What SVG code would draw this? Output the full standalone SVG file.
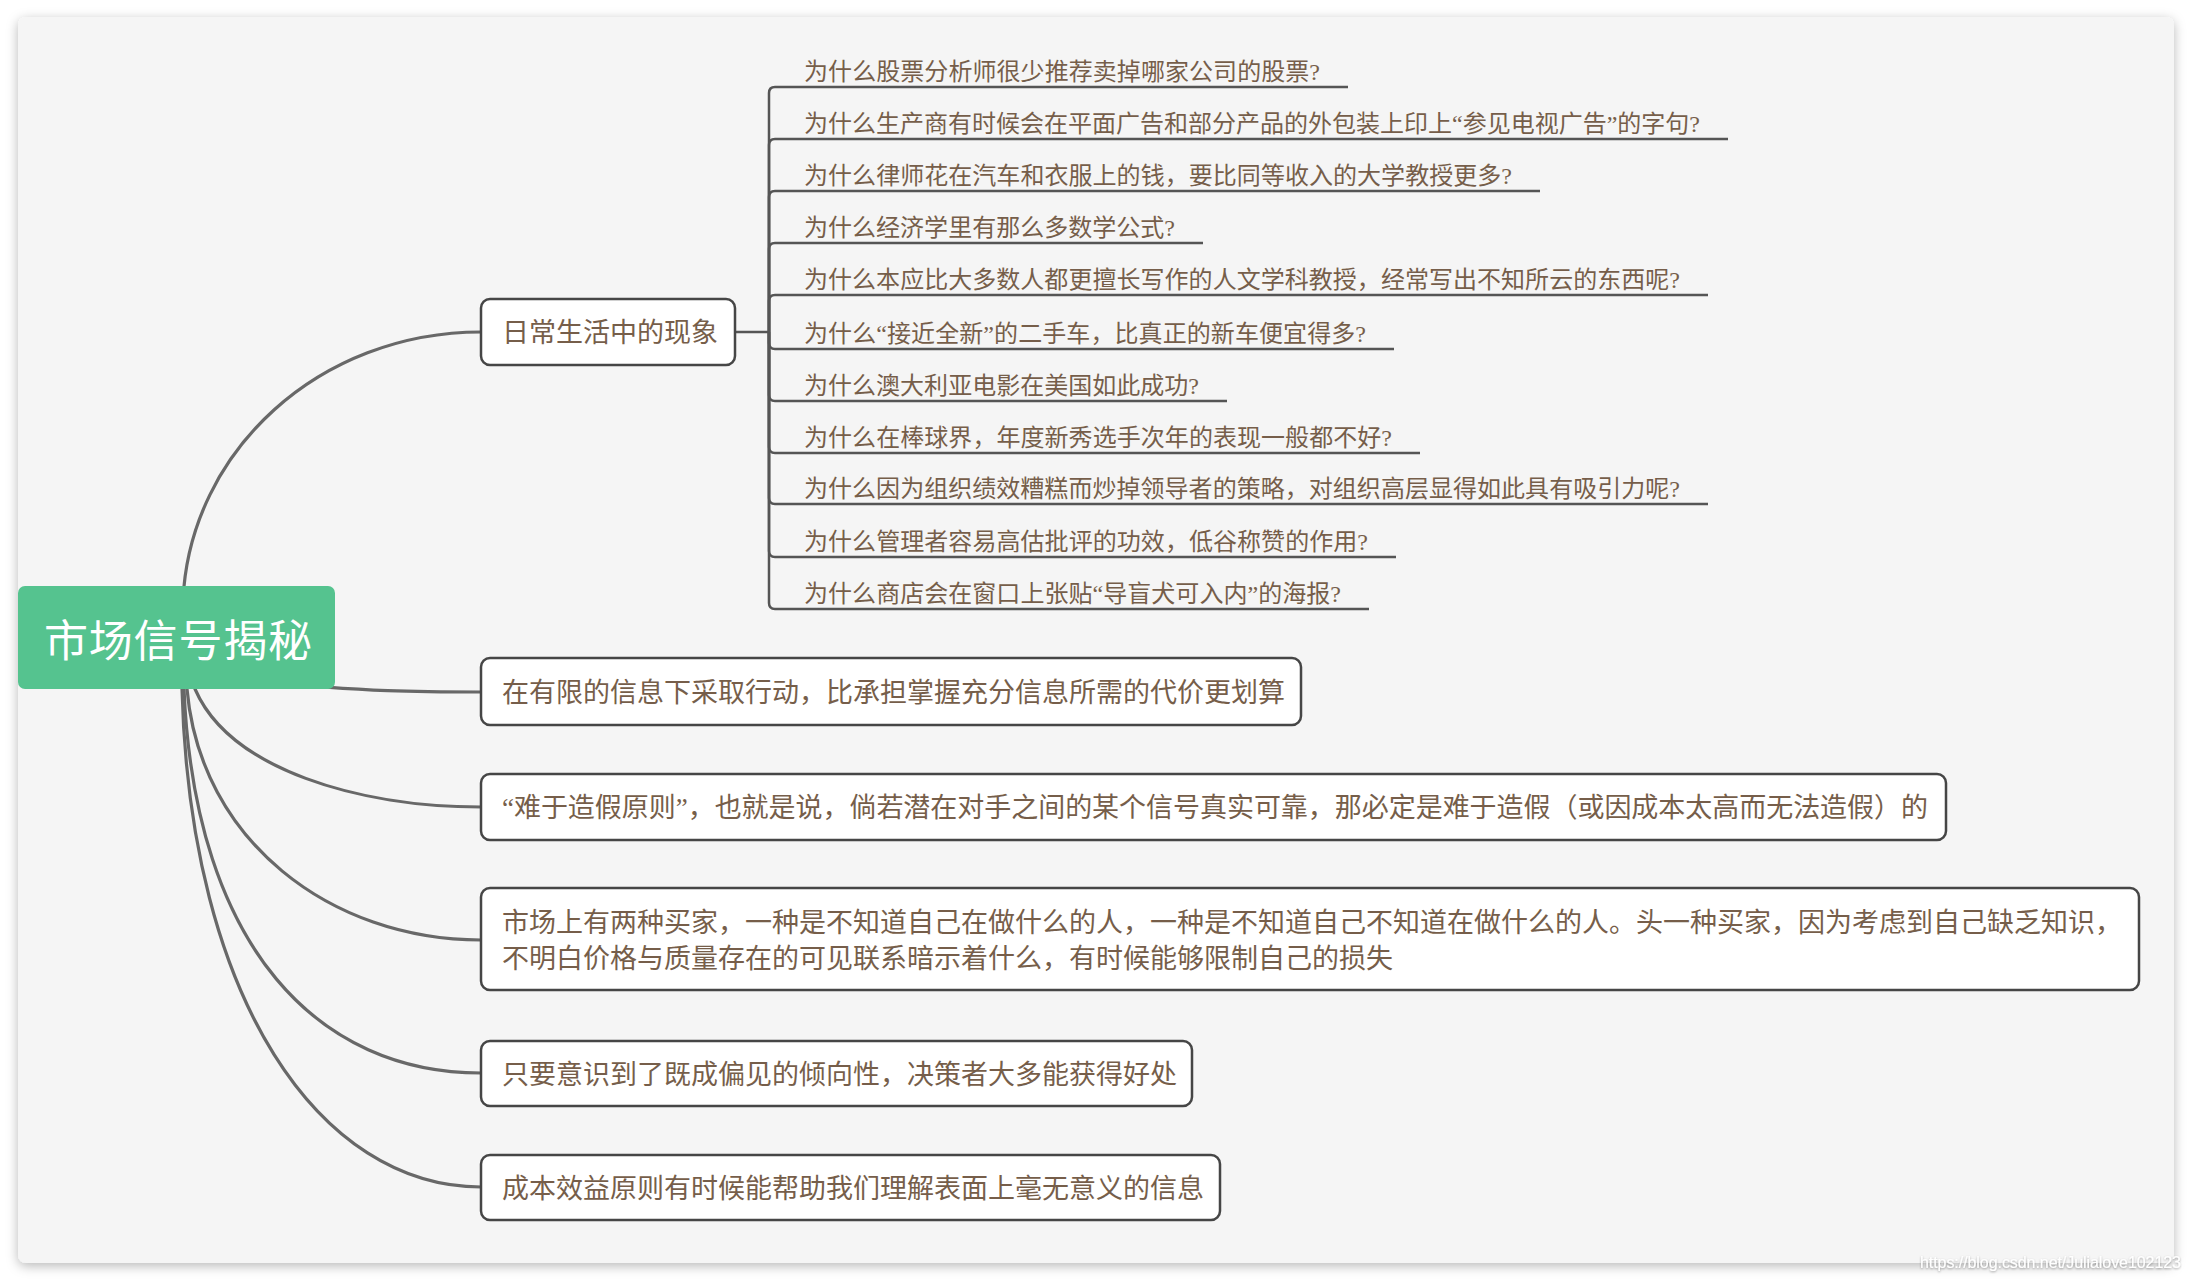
<svg xmlns="http://www.w3.org/2000/svg" width="2192" height="1282" viewBox="0 0 2192 1282">
<defs>
<filter id="cardShadow" x="-5%" y="-5%" width="110%" height="110%">
<feDropShadow dx="0" dy="3" stdDeviation="6" flood-color="#000" flood-opacity="0.28"/>
</filter>
<filter id="wmShadow" x="-5%" y="-30%" width="110%" height="160%">
<feDropShadow dx="0" dy="1" stdDeviation="1.2" flood-color="#000" flood-opacity="0.35"/>
</filter>
</defs>
<style>
.card{fill:#f5f5f5}
.box{fill:#ffffff;stroke:#464646;stroke-width:2.5}
.root{fill:#55c38f}
.t{font-family:"Noto Sans CJK SC","Liberation Serif",serif;fill:#765e4a}
.lbl{font-size:27px}
.q{font-size:24px}
.qm{font-family:"Liberation Serif",serif}
.rt{font-family:"Noto Sans CJK SC",sans-serif;font-size:44px;fill:#ffffff}
.curve{fill:none;stroke:#686868;stroke-width:3.2;stroke-linecap:round}
.br{fill:none;stroke:#555555;stroke-width:2.5}
.wm{font-family:"Liberation Sans",Arial,sans-serif;font-size:16px;fill:#ffffff}
</style>
<rect x="0" y="0" width="2192" height="1282" fill="#ffffff"/>
<rect class="card" x="18" y="17" width="2156" height="1246" rx="8" filter="url(#cardShadow)"/>

<g id="connectors">
<path class="curve" d="M183,600 C190,450 320,332 481,332"/>
<path class="curve" d="M250,681 C370,692 420,692 481,692"/>
<path class="curve" d="M195,689 C230,770 360,807 481,807"/>
<path class="curve" d="M187,689 C200,840 330,940 481,940"/>
<path class="curve" d="M184,689 C195,950 320,1073 481,1073"/>
<path class="curve" d="M182,689 C190,1000 320,1187 481,1187"/>
<path class="br" d="M735,332 H769"/>
<path class="br" d="M769,332 V93 Q769,87 775,87 H1348"/>
<path class="br" d="M769,332 V145 Q769,139 775,139 H1728"/>
<path class="br" d="M769,332 V197 Q769,191 775,191 H1540"/>
<path class="br" d="M769,332 V249 Q769,243 775,243 H1203"/>
<path class="br" d="M769,332 V301 Q769,295 775,295 H1708"/>
<path class="br" d="M769,332 V343 Q769,349 775,349 H1394"/>
<path class="br" d="M769,332 V395 Q769,401 775,401 H1227"/>
<path class="br" d="M769,332 V447 Q769,453 775,453 H1420"/>
<path class="br" d="M769,332 V498 Q769,504 775,504 H1708"/>
<path class="br" d="M769,332 V551 Q769,557 775,557 H1396"/>
<path class="br" d="M769,332 V603 Q769,609 775,609 H1369"/>
</g>

<g id="root">
<rect class="root" x="18" y="586" width="317" height="103" rx="7"/>
<text class="rt" x="178" y="657" text-anchor="middle" textLength="268">市场信号揭秘</text>
</g>

<g id="node-daily">
<rect class="box" x="481" y="299" width="254" height="66" rx="9"/>
<text class="t lbl" x="502" y="342" textLength="216">日常生活中的现象</text>
</g>

<g id="q1"><text class="t q" x="804" y="80" textLength="516">为什么股票分析师很少推荐卖掉哪家公司的股票<tspan class="qm">?</tspan></text></g>
<g id="q2"><text class="t q" x="804" y="132" textLength="896">为什么生产商有时候会在平面广告和部分产品的外包装上印上<tspan class="qm">“</tspan>参见电视广告<tspan class="qm">”</tspan>的字句<tspan class="qm">?</tspan></text></g>
<g id="q3"><text class="t q" x="804" y="184" textLength="708">为什么律师花在汽车和衣服上的钱，要比同等收入的大学教授更多<tspan class="qm">?</tspan></text></g>
<g id="q4"><text class="t q" x="804" y="236" textLength="371">为什么经济学里有那么多数学公式<tspan class="qm">?</tspan></text></g>
<g id="q5"><text class="t q" x="804" y="288" textLength="876">为什么本应比大多数人都更擅长写作的人文学科教授，经常写出不知所云的东西呢<tspan class="qm">?</tspan></text></g>
<g id="q6"><text class="t q" x="804" y="342" textLength="562">为什么<tspan class="qm">“</tspan>接近全新<tspan class="qm">”</tspan>的二手车，比真正的新车便宜得多<tspan class="qm">?</tspan></text></g>
<g id="q7"><text class="t q" x="804" y="394" textLength="395">为什么澳大利亚电影在美国如此成功<tspan class="qm">?</tspan></text></g>
<g id="q8"><text class="t q" x="804" y="446" textLength="588">为什么在棒球界，年度新秀选手次年的表现一般都不好<tspan class="qm">?</tspan></text></g>
<g id="q9"><text class="t q" x="804" y="497" textLength="876">为什么因为组织绩效糟糕而炒掉领导者的策略，对组织高层显得如此具有吸引力呢<tspan class="qm">?</tspan></text></g>
<g id="q10"><text class="t q" x="804" y="550" textLength="564">为什么管理者容易高估批评的功效，低谷称赞的作用<tspan class="qm">?</tspan></text></g>
<g id="q11"><text class="t q" x="804" y="602" textLength="537">为什么商店会在窗口上张贴<tspan class="qm">“</tspan>导盲犬可入内<tspan class="qm">”</tspan>的海报<tspan class="qm">?</tspan></text></g>

<g id="node-limited">
<rect class="box" x="481" y="658" width="820" height="67" rx="9"/>
<text class="t lbl" x="502" y="702" textLength="783">在有限的信息下采取行动，比承担掌握充分信息所需的代价更划算</text>
</g>

<g id="node-hardtofake">
<rect class="box" x="481" y="774" width="1465" height="66" rx="9"/>
<text class="t lbl" x="502" y="817" textLength="1426"><tspan class="qm">“</tspan>难于造假原则<tspan class="qm">”</tspan>，也就是说，倘若潜在对手之间的某个信号真实可靠，那必定是难于造假（或因成本太高而无法造假）的</text>
</g>

<g id="node-buyers">
<rect class="box" x="481" y="888" width="1658" height="102" rx="9"/>
<text class="t lbl" x="502" y="932" textLength="1620">市场上有两种买家，一种是不知道自己在做什么的人，一种是不知道自己不知道在做什么的人。头一种买家，因为考虑到自己缺乏知识，</text>
<text class="t lbl" x="502" y="968" textLength="891">不明白价格与质量存在的可见联系暗示着什么，有时候能够限制自己的损失</text>
</g>

<g id="node-bias">
<rect class="box" x="481" y="1041" width="711" height="65" rx="9"/>
<text class="t lbl" x="502" y="1084" textLength="675">只要意识到了既成偏见的倾向性，决策者大多能获得好处</text>
</g>

<g id="node-costbenefit">
<rect class="box" x="481" y="1155" width="739" height="65" rx="9"/>
<text class="t lbl" x="502" y="1198" textLength="702">成本效益原则有时候能帮助我们理解表面上毫无意义的信息</text>
</g>

<text class="wm" x="1920" y="1268" textLength="261" filter="url(#wmShadow)">https://blog.csdn.net/Julialove102123</text>
</svg>
